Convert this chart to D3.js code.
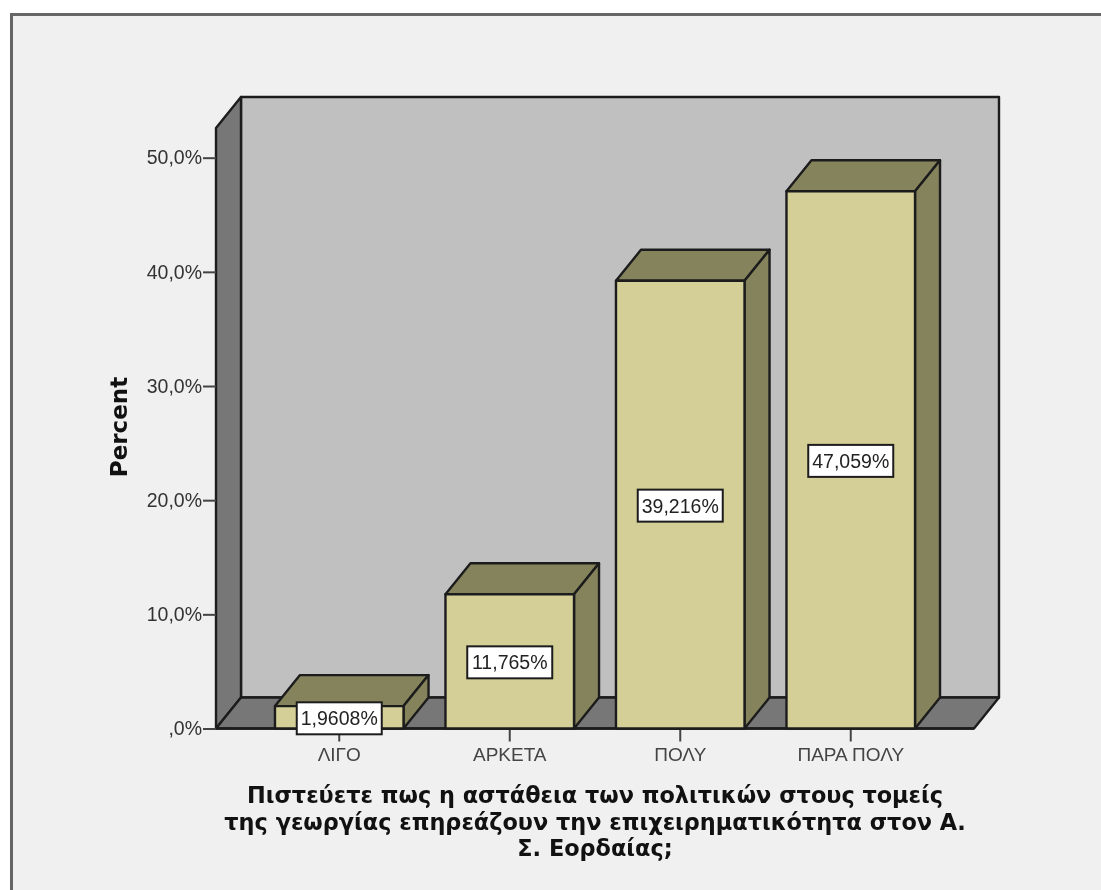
<!DOCTYPE html>
<html><head><meta charset="utf-8">
<script src="https://cdn.jsdelivr.net/npm/d3@7"></script>
<style>html,body{margin:0;padding:0;background:#fff}svg{display:block;filter:blur(0.5px)}text{font-family:"Liberation Sans",Arial,sans-serif;fill:#222}</style>
</head><body><svg id="c" width="1101" height="890"></svg>
<script>
const categories = ["ΛΙΓΟ","ΑΡΚΕΤΑ","ΠΟΛΥ","ΠΑΡΑ ΠΟΛΥ"];
const percents = [1.9608,11.765,39.216,47.059];
const valueLabels = ["1,9608%","11,765%","39,216%","47,059%"];
const yTicks = [0,10,20,30,40,50];
const yTickLabels = [",0%","10,0%","20,0%","30,0%","40,0%","50,0%"];
const yTitle = "Percent";
const titleLines = ["Πιστεύετε πως η αστάθεια των πολιτικών στους τομείς","της γεωργίας επηρεάζουν την επιχειρηματικότητα στον Α.","Σ. Εορδαίας;"];

const svg = d3.select("#c");
const W=1101,H=890, dx=25, dy=-31, ink="#1c1c1c";
const y = d3.scaleLinear().domain([0,52.6]).range([728.5,128]);
const x = d3.scaleBand().domain(categories).range([254,936]).paddingInner(0.246).paddingOuter(0.123);
const xL=216, xR=974;

svg.append("rect").attr("width",W).attr("height",H).attr("fill","#fff");
svg.append("path").attr("d",`M${W+5},14.5H11.5V${H+5}`).attr("fill","none").attr("stroke","#666").attr("stroke-width",3);
svg.append("rect").attr("x",13).attr("y",16).attr("width",W-13).attr("height",H-16).attr("fill","#f0f0f0");

const poly=(pts,fill,sw=2.4)=>svg.append("path").attr("d",d3.line()(pts)+"Z").attr("fill",fill).attr("stroke",ink).attr("stroke-width",sw).attr("stroke-linejoin","round");
const y0=y(0), yT=y(52.6);
poly([[xL+dx,yT+dy],[xR+dx,yT+dy],[xR+dx,y0+dy],[xL+dx,y0+dy]],"#c0c0c0");
poly([[xL,yT],[xL+dx,yT+dy],[xL+dx,y0+dy],[xL,y0]],"#777777");
poly([[xL,y0],[xL+dx,y0+dy],[xR+dx,y0+dy],[xR,y0]],"#777777");

const yAxis=d3.axisLeft(y).tickValues(yTicks).tickSize(13).tickPadding(1).tickFormat((d,i)=>yTickLabels[i]);
const ga=svg.append("g").attr("transform",`translate(${xL},0)`).call(yAxis);
ga.select(".domain").remove();
ga.selectAll("line").attr("stroke","#444").attr("stroke-width",2);
ga.selectAll("text").attr("font-size",19.5).attr("font-family",'"Liberation Sans"').style("fill","#333");

const xAxis=d3.axisBottom(x).tickSize(13).tickPadding(6);
const gx=svg.append("g").attr("transform",`translate(0,${y0})`).call(xAxis);
gx.select(".domain").remove();
gx.selectAll("line").attr("stroke","#444").attr("stroke-width",2);
gx.selectAll("text").attr("font-size",19).attr("font-family",'"Liberation Sans"').style("fill","#444");
svg.append("line").attr("x1",xL).attr("x2",xR).attr("y1",y0).attr("y2",y0).attr("stroke",ink).attr("stroke-width",2.4);

const bw=x.bandwidth();
categories.forEach((c,i)=>{
  const l=x(c), r=l+bw, t=y(percents[i]);
  poly([[l,t],[l+dx,t+dy],[r+dx,t+dy],[r,t]],"#85835c");
  poly([[r,t],[r+dx,t+dy],[r+dx,y0+dy],[r,y0]],"#85835c");
  poly([[l,t],[r,t],[r,y0],[l,y0]],"#d3cf96");
});
categories.forEach((c,i)=>{
  const cx=x(c)+bw/2, cy=y(percents[i]/2)+1;
  svg.append("rect").attr("x",cx-42.5).attr("y",cy-16).attr("width",85).attr("height",32).attr("fill","#fff").attr("stroke",ink).attr("stroke-width",2);
  svg.append("text").attr("x",cx).attr("y",cy+7).attr("text-anchor","middle").attr("font-size",19.5).style("fill","#222").text(valueLabels[i]);
});

svg.append("text").attr("transform","translate(127,427) rotate(-90)").attr("text-anchor","middle").style("font-family",'"DejaVu Sans"').attr("font-size",23).attr("font-weight","bold").style("fill","#111").text(yTitle);
titleLines.forEach((t,i)=>svg.append("text").attr("x",595).attr("y",803+i*26.5).attr("text-anchor","middle").style("font-family",'"DejaVu Sans"').attr("font-size",22.4).attr("font-weight","bold").style("fill","#111").text(t));
</script></body></html>
